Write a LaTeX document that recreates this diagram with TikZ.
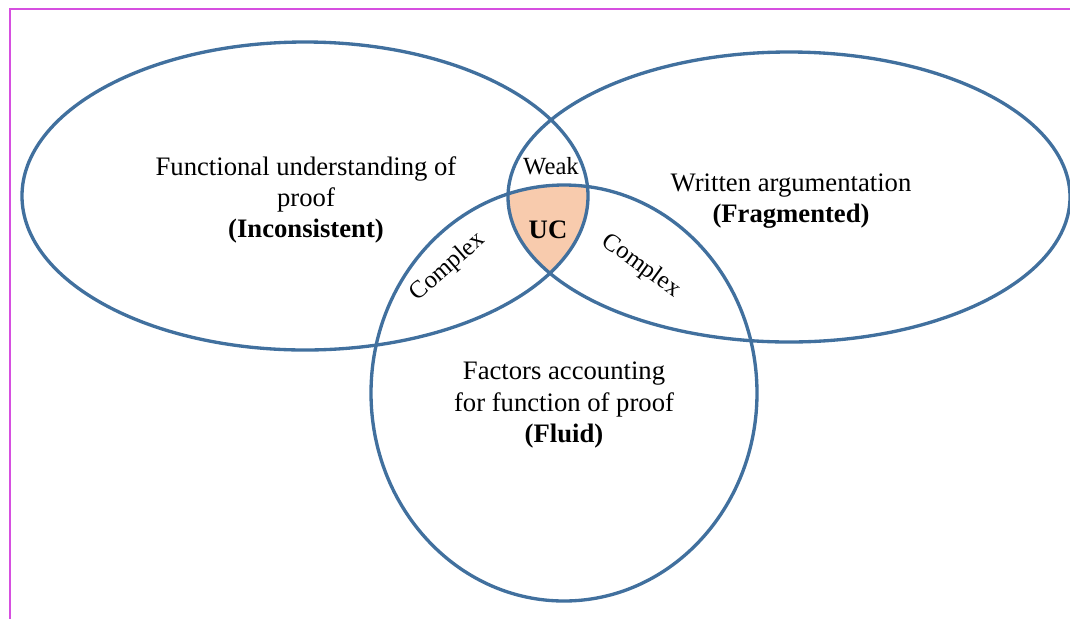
\documentclass[tikz,border=0pt]{standalone}
\usepackage{fontspec}
\setmainfont{Liberation Serif}
\begin{document}
\begin{tikzpicture}[x=0.75pt,y=-0.75pt,
  ring/.style={draw=ringblue,line width=2.5pt},
  mainlabel/.style={align=center,font=\fontsize{20}{23.5}\selectfont,inner sep=0pt},
  smalllabel/.style={font=\fontsize{18.5}{22}\selectfont,inner sep=0pt}]
\definecolor{ringblue}{HTML}{41709E}
\definecolor{ucfill}{HTML}{F8CBAD}
\definecolor{framemag}{HTML}{D64FE0}
\useasboundingbox (0,0) rectangle (1070,619);
% frame lines
\coordinate (ftr) at (1070,9);
\coordinate (ftl) at (10,9);
\coordinate (fbl) at (10,619);
\draw[framemag,line width=1.1pt] (ftr) -- (ftl) -- (fbl);
% UC fill
\begin{scope}
  \clip (305,196) ellipse [x radius=283,y radius=154];
  \clip (789,197) ellipse [x radius=281,y radius=145];
  \fill[ucfill] (564,393) ellipse [x radius=193,y radius=208];
\end{scope}
% rings
\draw[ring] (305,196) ellipse [x radius=283,y radius=154];
\draw[ring] (789,197) ellipse [x radius=281,y radius=145];
\draw[ring] (564,393) ellipse [x radius=193,y radius=208];
% labels
\node[mainlabel] (lft) at (306,200) {Functional understanding of\\proof\\\textbf{(Inconsistent)}};
\node[mainlabel] (rgt) at (791,201) {Written argumentation\\\textbf{(Fragmented)}};
\node[mainlabel] (bot) at (564,405) {Factors accounting\\for function of proof\\\textbf{(Fluid)}};
\node[smalllabel] (weak) at (551,166) {Weak};
\node[mainlabel] (uc) at (548,230) {\textbf{UC}};
\node[smalllabel,rotate=41] (cl) at (448,267) {Complex};
\node[smalllabel,rotate=-36] (cr) at (641,266) {Complex};
\end{tikzpicture}
\end{document}
